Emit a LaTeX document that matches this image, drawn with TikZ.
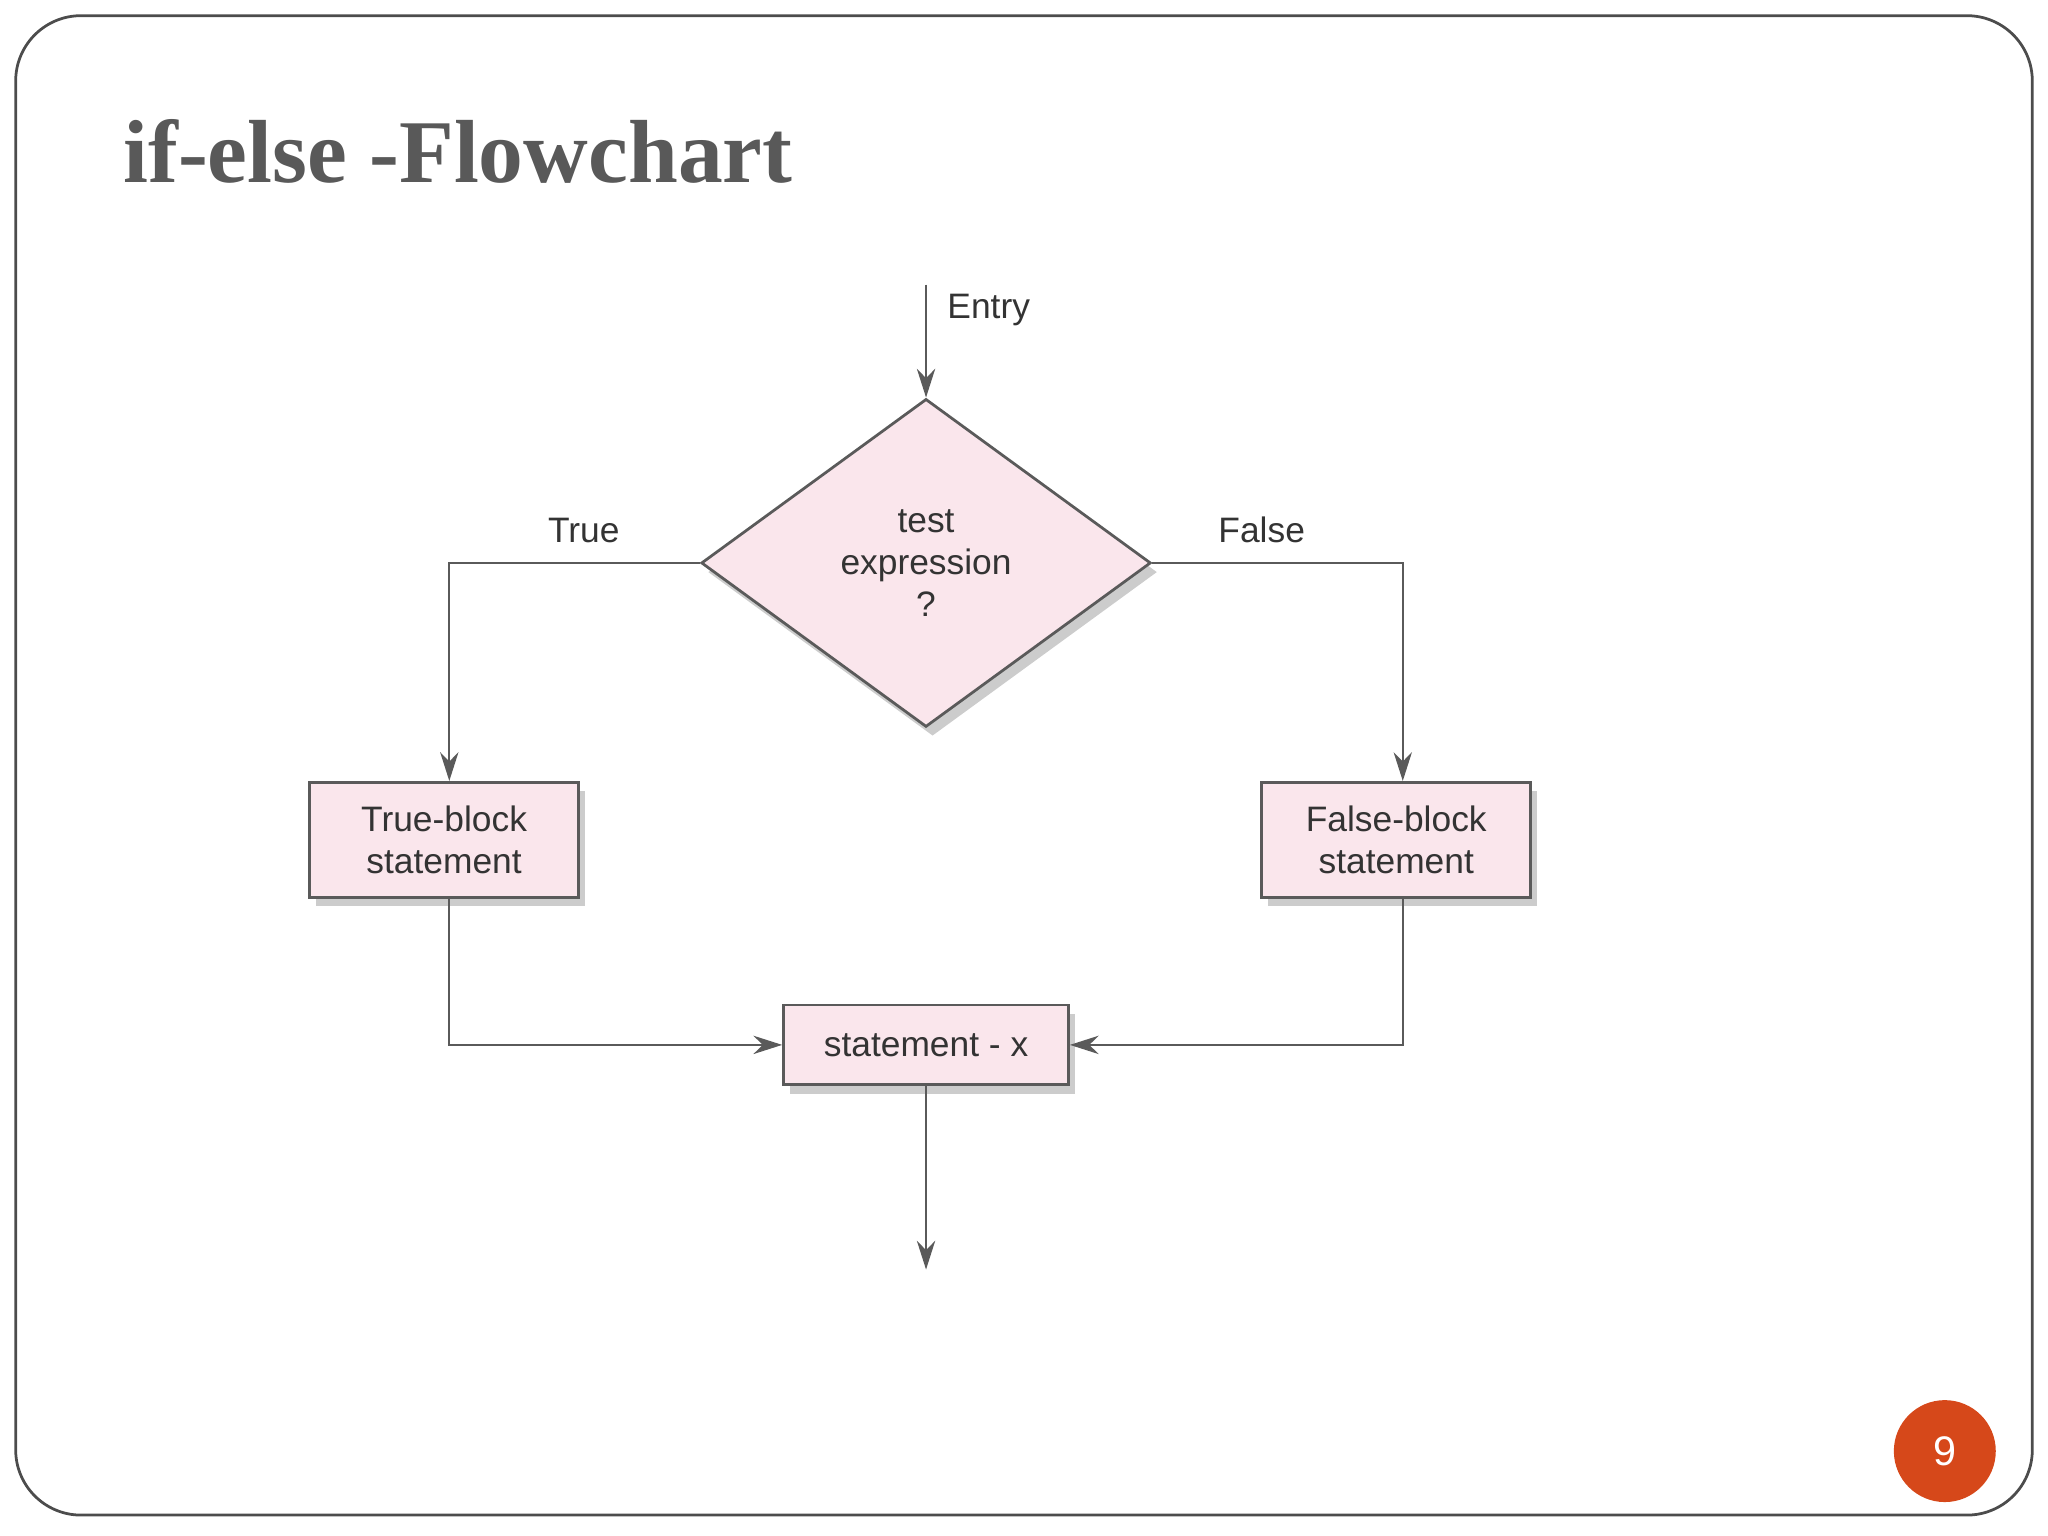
\documentclass[tikz,border=0pt]{standalone}
\usepackage{fontspec}
\setmainfont{Liberation Sans}
\newfontfamily\titlefont{Liberation Serif}
\usetikzlibrary{shapes.geometric,shadows,arrows.meta}
\definecolor{boxpink}{RGB}{250,230,236}
\definecolor{linegray}{RGB}{90,90,90}
\definecolor{badge}{RGB}{214,72,26}
\tikzset{
  blk/.style={draw=linegray,fill=boxpink,line width=0.6pt,drop shadow={opacity=0.4,shadow xshift=0.05cm,shadow yshift=-0.07cm},align=center,font=\fontsize{7.7pt}{9.2pt}\selectfont,text=black!80},
  conn/.style={draw=linegray,line width=0.5pt,-{Stealth[length=2.2mm,width=1.4mm]}},
  lbl/.style={font=\fontsize{7.7pt}{9.2pt}\selectfont,text=black!80}
}
\begin{document}
\begin{tikzpicture}[x=0.01cm,y=-0.01cm]
\useasboundingbox (0,0) rectangle (1568,1176);
\draw[black!70,line width=0.6pt,rounded corners=0.5cm] (12,12) rectangle (1556,1160);
\node[anchor=base west,font=\titlefont\bfseries\fontsize{19.5pt}{22pt}\selectfont,text=black!65] (title) at (82,140) {if-else -Flowchart};
\coordinate (entry) at (709,218);
\node[lbl,anchor=west] (entrylbl) at (713,237) {Entry};
\node[blk,diamond,minimum width=3.44cm,minimum height=2.51cm,inner sep=0pt] (test) at (709,431) {test\\expression\\?};
\node[blk,minimum width=2.06cm,minimum height=0.88cm] (tb) at (340,643) {True-block\\statement};
\node[blk,minimum width=2.06cm,minimum height=0.88cm] (fb) at (1069,643) {False-block\\statement};
\node[blk,minimum width=2.18cm,minimum height=0.61cm] (sx) at (709,800) {statement - x};
\coordinate (out) at (709,972);
\draw[conn] (entry) -- (test.north);
\draw[conn] (test.west) -| (tb.north -| 344,0);
\draw[conn] (test.east) -| (fb.north -| 1074,0);
\draw[conn] (tb.south -| 344,0) |- (sx.west);
\draw[conn] (fb.south -| 1074,0) |- (sx.east);
\draw[conn] (sx.south) -- (out);
\node[lbl] (truelbl) at (447,406) {True};
\node[lbl] (falselbl) at (966,406) {False};
\node[circle,fill=badge,minimum size=0.78cm,text=white,font=\fontsize{9pt}{10pt}\selectfont] (pg) at (1489,1111) {9};
\end{tikzpicture}
\end{document}
